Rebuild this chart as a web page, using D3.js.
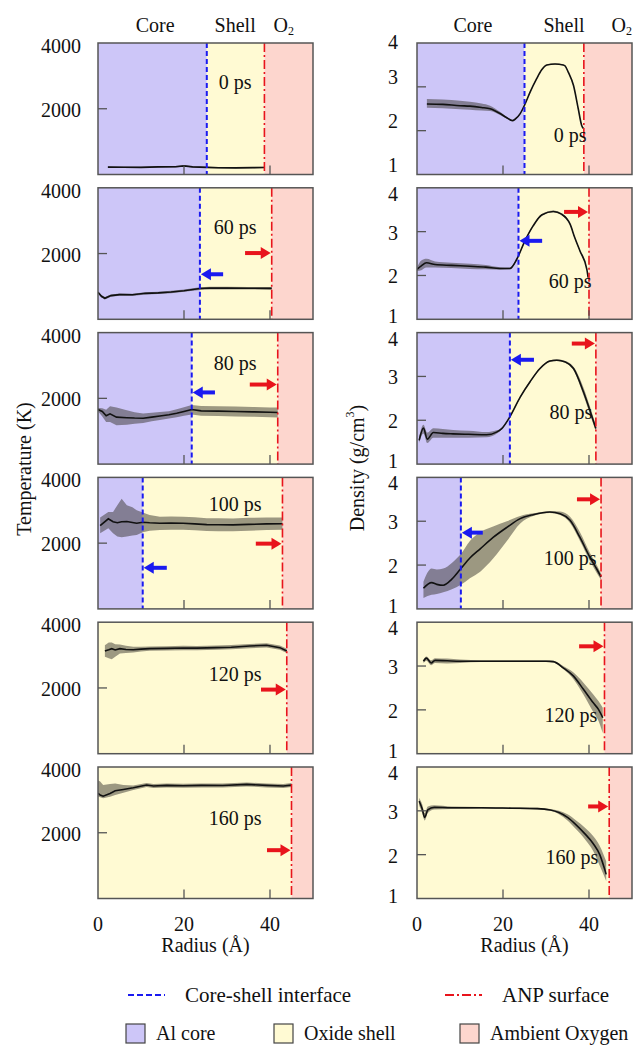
<!DOCTYPE html>
<html>
<head>
<meta charset="utf-8">
<title>Radial temperature and density profiles</title>
<script src="https://d3js.org/d3.v7.min.js"></script>
<style>
  body { margin: 0; background: #fff; }
  svg text { font-family: "Liberation Serif", "Times New Roman", serif; fill: #111; }
</style>
</head>
<body>
<svg width="640" height="1046" font-family="Liberation Serif, Times New Roman, serif"></svg>
<script>
// snapshot labels
var times = ["0 ps", "60 ps", "80 ps", "100 ps", "120 ps", "160 ps"];

// interface radii (Å) for each snapshot, null once the core is gone
var coreShellT = [25.3, 23.7, 21.8, 10.4, null, null];
var surfaceT   = [38.7, 40.4, 41.8, 42.9, 43.9, 45.0];
var coreShellD = [25.0, 23.6, 21.6, 10.2, null, null];
var surfaceD   = [38.8, 40.0, 41.6, 42.8, 43.6, 44.7];

// temperature profiles: [radius Å, mean K, low K, high K]
var temp0 = [[2.3,225,205,245],[6,222,202,242],[10,218,198,238],[14,232,212,252],[18,236,216,256],[20,262,240,282],[22,232,212,252],[25.3,218,198,238],[28,206,186,226],[32,202,182,222],[36,208,188,228],[38.7,214,194,234]];
var temp60 = [[0,820,790,850],[0.8,700,660,740],[1.6,640,600,680],[3,720,685,755],[5,750,715,785],[8,745,710,780],[11,790,755,825],[14,805,770,840],[17,830,795,865],[20,870,835,905],[23.7,935,895,975],[26,950,910,990],[30,948,908,988],[35,945,905,985],[40.4,940,900,980]];
var temp80 = [[0,1660,1610,1710],[1,1600,1450,1700],[1.9,1470,1280,1650],[2.8,1530,1280,1760],[4.3,1430,1180,1720],[6.7,1410,1200,1640],[8.5,1400,1230,1580],[10.5,1395,1250,1540],[12.5,1430,1300,1560],[14.4,1465,1345,1585],[16.5,1500,1390,1610],[18.3,1545,1425,1665],[20,1600,1470,1730],[21.8,1660,1510,1800],[24,1620,1470,1770],[28,1610,1460,1760],[32,1600,1450,1750],[36,1590,1440,1740],[40,1575,1425,1725],[41.8,1570,1420,1720]];
var temp100 = [[0.5,2530,2300,2780],[2.4,2740,2450,2950],[3.5,2650,2300,2950],[4.5,2620,2200,3150],[5.5,2650,2180,3350],[6.7,2656,2200,3150],[8,2630,2230,3090],[9,2605,2250,3000],[10.4,2636,2330,2930],[12,2620,2380,2860],[14.4,2605,2400,2800],[17,2610,2410,2810],[19.8,2605,2405,2805],[22.5,2585,2390,2785],[25.3,2565,2370,2760],[28,2560,2365,2755],[31.4,2555,2360,2750],[35,2570,2380,2770],[39.2,2585,2400,2780],[42.9,2590,2410,2780]];
var temp120 = [[1.6,3125,2950,3300],[2.5,3160,2900,3380],[3.2,3196,2870,3380],[4,3155,2950,3330],[5.1,3196,3050,3320],[6.5,3170,3060,3280],[8.2,3160,3080,3250],[10,3180,3110,3250],[12,3196,3130,3260],[16,3205,3140,3270],[19.8,3216,3150,3280],[23,3210,3145,3275],[27.6,3226,3160,3290],[31,3240,3175,3305],[35.3,3277,3210,3340],[39.2,3298,3230,3360],[42.3,3226,3160,3290],[43.9,3125,3060,3190]];
var temp160 = [[0,3200,3100,3600],[0.5,3150,3080,3560],[1.2,3114,3050,3450],[2.8,3196,3094,3480],[4,3277,3150,3500],[5.9,3318,3220,3450],[8.2,3369,3300,3440],[11.3,3450,3390,3510],[12.9,3420,3360,3480],[16,3440,3380,3500],[19.8,3430,3370,3490],[24,3440,3380,3500],[29,3435,3375,3495],[34.6,3471,3410,3530],[39.2,3440,3380,3500],[43.1,3420,3360,3480],[45,3450,3390,3510]];

// density profiles: [radius Å, mean g/cm3, low, high]
var dens0 = [[2.3,2.61,2.52,2.72],[6,2.60,2.51,2.71],[10,2.57,2.49,2.68],[12.3,2.56,2.48,2.66],[15,2.53,2.46,2.62],[17,2.50,2.45,2.57],[19.3,2.39,2.36,2.43],[20.8,2.30,2.28,2.32],[22.2,2.23,2.22,2.24],[22.8,2.26,2.25,2.27],[24,2.39,2.38,2.40],[25,2.58,2.57,2.59],[26.3,2.88,2.87,2.89],[27.8,3.18,3.17,3.19],[29,3.39,3.38,3.40],[30.2,3.50,3.49,3.51],[32.1,3.52,3.51,3.53],[34,3.50,3.49,3.51],[34.4,3.48,3.47,3.49],[35.2,3.33,3.32,3.34],[36.4,3.03,3.02,3.04],[37.5,2.50,2.49,2.51],[38.3,2.12,2.11,2.13],[38.7,2.05,2.04,2.06]];
var dens60 = [[0,2.14,2.10,2.18],[1,2.22,2.12,2.34],[2.2,2.29,2.18,2.38],[4.2,2.25,2.18,2.32],[8,2.23,2.17,2.29],[12.3,2.21,2.15,2.27],[16,2.19,2.14,2.24],[19.3,2.16,2.13,2.19],[21.6,2.16,2.14,2.18],[23.2,2.37,2.35,2.39],[25.1,2.79,2.77,2.81],[27,3.13,3.11,3.15],[29,3.38,3.36,3.40],[31.7,3.46,3.44,3.48],[33.6,3.40,3.38,3.42],[35.6,3.17,3.15,3.19],[36.7,2.86,2.84,2.88],[37.9,2.56,2.54,2.58],[39.5,2.14,2.12,2.16],[39.8,1.95,1.93,1.97]];
var dens80 = [[0.5,1.54,1.48,1.62],[1.5,1.82,1.70,1.90],[2.4,1.57,1.48,1.72],[3.8,1.72,1.60,1.82],[6,1.70,1.60,1.80],[8.4,1.69,1.60,1.78],[12,1.68,1.60,1.76],[16.2,1.67,1.61,1.73],[18.5,1.73,1.69,1.77],[19.7,1.81,1.79,1.83],[21.6,2.08,2.06,2.10],[24,2.53,2.51,2.55],[26.3,2.88,2.86,2.90],[28.6,3.18,3.16,3.20],[30.9,3.35,3.33,3.37],[32.5,3.37,3.35,3.39],[34.5,3.33,3.31,3.35],[36.4,3.18,3.14,3.22],[38.7,2.65,2.57,2.75],[40.2,2.23,2.14,2.32],[41.6,1.81,1.74,1.88]];
var dens100 = [[1.5,1.47,1.25,1.62],[3.4,1.60,1.32,1.92],[4.6,1.56,1.34,1.90],[6.1,1.54,1.38,1.92],[8.1,1.68,1.45,2.05],[10.2,1.92,1.55,2.25],[12.3,2.16,1.70,2.55],[14.7,2.37,1.85,2.75],[17.7,2.63,2.15,2.88],[20.9,2.86,2.55,3.00],[24,3.06,2.95,3.12],[27,3.15,3.12,3.18],[30.9,3.21,3.19,3.23],[33.3,3.17,3.14,3.22],[35.6,3.02,2.96,3.10],[37.9,2.63,2.55,2.75],[40.2,2.18,2.10,2.28],[41.8,1.91,1.82,2.00],[42.8,1.73,1.66,1.80]];
var dens120 = [[1.5,3.11,3.07,3.15],[2.2,3.18,3.12,3.22],[3.3,3.07,3.02,3.13],[4.2,3.13,3.07,3.18],[7,3.12,3.06,3.17],[10,3.11,3.07,3.15],[15,3.11,3.09,3.13],[20,3.11,3.09,3.13],[25,3.11,3.09,3.13],[30,3.11,3.09,3.13],[31.7,3.10,3.08,3.12],[34,2.96,2.93,3.00],[36.4,2.77,2.70,2.85],[38.7,2.47,2.35,2.62],[41,2.16,1.95,2.35],[42.2,2.01,1.75,2.20],[43.2,1.82,1.47,2.05]];
var dens160 = [[0.5,3.22,3.12,3.30],[1.2,3.05,2.95,3.15],[1.8,2.85,2.78,2.95],[2.5,3.02,2.95,3.10],[4,3.08,3.03,3.13],[8,3.07,3.04,3.10],[15,3.07,3.05,3.09],[22,3.06,3.04,3.08],[28,3.05,3.03,3.07],[31,3.02,3.00,3.04],[33,2.96,2.92,3.00],[35,2.85,2.78,2.92],[37,2.68,2.58,2.78],[39,2.48,2.36,2.62],[41,2.25,2.08,2.42],[42.5,2.00,1.75,2.20],[44,1.55,1.40,1.85]];

// arrows: [panel, "core" | "surf", tail radius Å, value]
var arrowsT = [[1,"core",29.1,1370],[1,"surf",34.2,2015],[2,"core",27.2,2180],[2,"surf",35.3,2420],[3,"core",16.0,1250],[3,"surf",36.7,1985],[4,"surf",37.9,1950],[5,"surf",39.3,1470]];
var arrowsD = [[1,"core",29.1,2.79],[1,"surf",34.2,3.45],[2,"core",27.2,3.38],[2,"surf",36.0,3.75],[3,"core",15.3,2.74],[3,"surf",37.2,3.50],[4,"surf",37.7,3.45],[5,"surf",39.8,3.10]];

// time label anchor: [radius Å, value]
var labelPosT = [[31.9,2820],[31.9,2810],[31.9,3090],[31.9,3200],[31.9,2410],[31.9,2440]];
var labelPosD = [[35.6,1.91],[35.6,1.87],[35.8,2.19],[35.6,2.17],[35.8,1.89],[36.0,1.94]];

var tempTicks = [2000, 4000];
var densTicks = [1, 2, 3, 4];
var radiusTicks = [0, 20, 40];

var tempSeries = [temp0, temp60, temp80, temp100, temp120, temp160];
var densSeries = [dens0, dens60, dens80, dens100, dens120, dens160];

var colors = { core: "#cdc6f8", shell: "#fffad3", oxy: "#fdd6ce",
               blue: "#1a1af0", red: "#e8141c", frame: "#555", band: "#3a3530" };

var svg = d3.select("svg");
var panelH = 131.5, step = 144.8, top0 = 43;

var x = {
  T: d3.scaleLinear().domain([0, 50]).range([98, 313]),
  D: d3.scaleLinear().domain([0, 50]).range([417, 632])
};

// small nudges so stacked tick labels do not collide
function labelShift(key, i, d) {
  if (key === "T") return d === 4000 ? 3 : 1;
  if (i === 0) return d === 4 ? -1 : -10;
  return d === 4 ? 6 : d === 1 ? -3 : 1;
}

function drawColumn(key, series, coreArr, surfArr, yDomain, yTicks, tickLabels, arrows, labelPos, labelEnd, curve) {
  var xs = x[key];
  series.forEach(function(data, i) {
    var top = top0 + i * step;
    var y = d3.scaleLinear().domain(yDomain).range([top + panelH, top]);
    var g = svg.append("g");
    var clipId = "clip" + key + i;
    svg.append("clipPath").attr("id", clipId).append("rect")
      .attr("x", xs(0)).attr("y", top).attr("width", xs(50) - xs(0)).attr("height", panelH);

    // regions
    var c = coreArr[i], s = surfArr[i];
    var regions = [];
    if (c !== null) regions.push([0, c, colors.core]);
    regions.push([c === null ? 0 : c, s, colors.shell]);
    regions.push([s, 50, colors.oxy]);
    g.selectAll("rect.reg").data(regions).enter().append("rect")
      .attr("x", function(d) { return xs(d[0]); })
      .attr("width", function(d) { return xs(d[1]) - xs(d[0]); })
      .attr("y", top).attr("height", panelH)
      .attr("fill", function(d) { return d[2]; });

    // band + mean
    var area = d3.area().curve(curve)
      .x(function(d) { return xs(d[0]); })
      .y0(function(d) { return y(d[2]); })
      .y1(function(d) { return y(d[3]); });
    var line = d3.line().curve(curve)
      .x(function(d) { return xs(d[0]); })
      .y(function(d) { return y(d[1]); });
    g.append("path").datum(data).attr("d", area)
      .attr("fill", colors.band).attr("opacity", 0.5).attr("clip-path", "url(#" + clipId + ")");
    g.append("path").datum(data).attr("d", line)
      .attr("fill", "none").attr("stroke", "#111").attr("stroke-width", 1.6)
      .attr("clip-path", "url(#" + clipId + ")");

    // interface lines
    if (c !== null) {
      g.append("line").attr("x1", xs(c)).attr("x2", xs(c)).attr("y1", top).attr("y2", top + panelH)
        .attr("stroke", colors.blue).attr("stroke-width", 2).attr("stroke-dasharray", "5,3");
    }
    g.append("line").attr("x1", xs(s)).attr("x2", xs(s)).attr("y1", top).attr("y2", top + panelH)
      .attr("stroke", colors.red).attr("stroke-width", 1.6).attr("stroke-dasharray", "9,3,2,3");

    // arrows
    arrows.filter(function(a) { return a[0] === i; }).forEach(function(a) {
      var tip = a[1] === "core" ? xs(c) + 1 : xs(s) - 1;
      var dir = a[1] === "core" ? -1 : 1;
      var ty = y(a[3]), tx = xs(a[2]);
      var col = a[1] === "core" ? colors.blue : colors.red;
      g.append("line").attr("x1", tx).attr("x2", tip - dir * 8).attr("y1", ty).attr("y2", ty)
        .attr("stroke", col).attr("stroke-width", 4);
      g.append("path")
        .attr("d", "M" + tip + "," + ty + "L" + (tip - dir * 10) + "," + (ty - 6) + "L" + (tip - dir * 10) + "," + (ty + 6) + "Z")
        .attr("fill", col);
    });

    // time label
    g.append("text").attr("x", xs(labelPos[i][0])).attr("y", y(labelPos[i][1]))
      .attr("text-anchor", "middle").attr("dominant-baseline", "central")
      .attr("font-size", 20).text(times[i]);

    // frame and inward ticks
    g.append("rect").attr("x", xs(0)).attr("y", top).attr("width", xs(50) - xs(0)).attr("height", panelH)
      .attr("fill", "none").attr("stroke", colors.frame).attr("stroke-width", 1.5);
    g.selectAll("line.yt").data(yTicks).enter().append("line")
      .attr("x1", xs(0)).attr("x2", xs(0) + 9)
      .attr("y1", function(d) { return y(d); }).attr("y2", function(d) { return y(d); })
      .attr("stroke", colors.frame).attr("stroke-width", 1.3);
    g.selectAll("line.xt").data([20, 40]).enter().append("line")
      .attr("x1", function(d) { return xs(d); }).attr("x2", function(d) { return xs(d); })
      .attr("y1", top + panelH).attr("y2", top + panelH - 9)
      .attr("stroke", colors.frame).attr("stroke-width", 1.3);
    g.selectAll("text.yl").data(tickLabels).enter().append("text")
      .attr("x", labelEnd).attr("y", function(d) { return y(d) + labelShift(key, i, d); })
      .attr("text-anchor", "end").attr("dominant-baseline", "central")
      .attr("font-size", 20).text(function(d) { return d; });

    // radius axis under the last panel
    if (i === series.length - 1) {
      svg.selectAll(null).data(radiusTicks).enter().append("text")
        .attr("x", function(d) { return xs(d); }).attr("y", top + panelH + 25)
        .attr("text-anchor", "middle").attr("dominant-baseline", "central")
        .attr("font-size", 20).text(function(d) { return d; });
      svg.append("text").attr("x", (xs(0) + xs(50)) / 2).attr("y", top + panelH + 46)
        .attr("text-anchor", "middle").attr("dominant-baseline", "central")
        .attr("font-size", 20).text("Radius (Å)");
    }
  });

  // region headings
  var heads = key === "T" ? [[13.3, "Core"], [31.9, "Shell"], [43.2, "O"]] : [[13.0, "Core"], [34.2, "Shell"], [47.6, "O"]];
  heads.forEach(function(h) {
    var t = svg.append("text").attr("x", xs(h[0])).attr("y", 25)
      .attr("text-anchor", "middle").attr("dominant-baseline", "central").attr("font-size", 20);
    t.append("tspan").text(h[1]);
    if (h[1] === "O") t.append("tspan").attr("font-size", 12).attr("dy", 6).text("2");
  });
}

drawColumn("T", tempSeries, coreShellT, surfaceT, [0, 4000], [2000], tempTicks, arrowsT, labelPosT, 81, d3.curveLinear);
drawColumn("D", densSeries, coreShellD, surfaceD, [1, 4], [2, 3], densTicks, arrowsD, labelPosD, 398, d3.curveMonotoneX);

// axis titles
svg.append("text").attr("transform", "translate(24,469) rotate(-90)")
  .attr("text-anchor", "middle").attr("dominant-baseline", "central").attr("font-size", 20)
  .text("Temperature (K)");
var dt = svg.append("text").attr("transform", "translate(357,468) rotate(-90)")
  .attr("text-anchor", "middle").attr("dominant-baseline", "central").attr("font-size", 20);
dt.append("tspan").text("Density (g/cm");
dt.append("tspan").attr("font-size", 12).attr("dy", -7).text("3");
dt.append("tspan").attr("dy", 7).text(")");

// legend
var legLines = [
  { x: 128, label: "Core-shell interface", color: colors.blue, dash: "6,3" },
  { x: 445, label: "ANP surface", color: colors.red, dash: "9,3,2,3" }
];
var lg = svg.append("g");
legLines.forEach(function(d) {
  lg.append("line").attr("x1", d.x).attr("x2", d.x + 37).attr("y1", 995).attr("y2", 995)
    .attr("stroke", d.color).attr("stroke-width", 2).attr("stroke-dasharray", d.dash);
  lg.append("text").attr("x", d.x + 57).attr("y", 995).attr("dominant-baseline", "central")
    .attr("font-size", 21).text(d.label);
});
var legBoxes = [
  { x: 126, label: "Al core", color: colors.core },
  { x: 274, label: "Oxide shell", color: colors.shell },
  { x: 460, label: "Ambient Oxygen", color: colors.oxy }
];
legBoxes.forEach(function(d) {
  lg.append("rect").attr("x", d.x).attr("y", 1024).attr("width", 19).attr("height", 19)
    .attr("fill", d.color).attr("stroke", "#444").attr("stroke-width", 1.2);
  lg.append("text").attr("x", d.x + 30).attr("y", 1033).attr("dominant-baseline", "central")
    .attr("font-size", 20).text(d.label);
});
</script>
</body>
</html>
